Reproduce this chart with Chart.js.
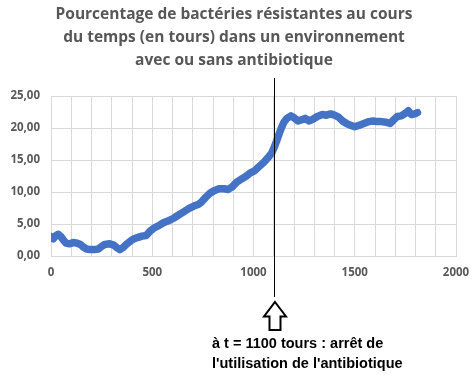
<!DOCTYPE html>
<html>
<head>
<meta charset="utf-8">
<script src="https://cdn.jsdelivr.net/npm/chart.js@4"></script>
<style>
  html, body { margin: 0; padding: 0; background: #ffffff; }
  #wrap { width: 474px; height: 378px; position: relative; }
</style>
</head>
<body>
<div id="wrap"><canvas id="c" width="474" height="378"></canvas></div>
<script>
// ---- Data ----
const titleLines = [
  "Pourcentage de bactéries résistantes au cours",
  "du temps (en tours) dans un environnement",
  "avec ou sans antibiotique"
];
const noteLines = [
  "à t = 1100 tours : arrêt de",
  "l'utilisation de l'antibiotique"
];
const stopTime = 1100;

const tours = [
  0, 12, 25, 36, 50, 61, 75, 90, 110, 130, 145, 160, 175, 195, 215, 235, 250, 265, 290, 310,
  325, 340, 355, 375, 395, 410, 430, 450, 470, 490, 510, 530, 555, 580, 605, 630, 655, 680, 705, 730,
  745, 765, 785, 805, 830, 855, 875, 895, 915, 940, 965, 985, 1005, 1025, 1050, 1070, 1090, 1105, 1120, 1135,
  1150, 1165, 1185, 1200, 1220, 1240, 1255, 1275, 1295, 1315, 1340, 1360, 1380, 1400, 1420, 1440, 1460, 1480, 1500, 1520,
  1545, 1570, 1590, 1610, 1630, 1655, 1675, 1690, 1710, 1730, 1750, 1765, 1780, 1795, 1810
];
const pourcentage = [
  3.0, 2.7, 3.2, 3.4, 3.0, 2.5, 2.0, 1.9, 2.1, 2.0, 1.8, 1.4, 1.1, 1.0, 1.0, 1.1, 1.5, 1.8, 1.9, 1.7,
  1.3, 1.0, 1.3, 1.9, 2.4, 2.7, 2.9, 3.1, 3.2, 3.9, 4.4, 4.7, 5.2, 5.5, 5.9, 6.4, 6.9, 7.4, 7.8, 8.1,
  8.5, 9.2, 9.8, 10.2, 10.5, 10.5, 10.4, 10.8, 11.5, 12.0, 12.5, 13.0, 13.3, 13.9, 14.6, 15.3, 16.1, 17.2, 18.5, 19.8,
  20.9, 21.5, 21.9, 21.6, 21.1, 21.3, 21.5, 21.1, 21.4, 21.8, 22.1, 22.0, 22.2, 22.0, 21.7, 21.1, 20.7, 20.4, 20.2, 20.4,
  20.7, 21.0, 21.1, 21.0, 21.0, 20.9, 20.7, 21.2, 21.8, 21.9, 22.3, 22.7, 22.1, 22.2, 22.4
];
const xTickLabels = [0, 500, 1000, 1500, 2000];
const yTickLabels = ["0,00", "5,00", "10,00", "15,00", "20,00", "25,00"];

// ---- Chart ----
const points = tours.map((t, i) => ({ x: t, y: pourcentage[i] }));

const titlePlugin = {
  id: 'titleAndNote',
  afterDraw(chart) {
    const ctx = chart.ctx;
    ctx.save();
    // title
    ctx.fillStyle = '#575757';
    ctx.font = 'bold 15.5px "Open Sans"';
    ctx.textAlign = 'center';
    ctx.textBaseline = 'middle';
    titleLines.forEach((l, i) => ctx.fillText(l, 234, 15 + i * 23));

    // vertical marker at stopTime
    const x = Math.round(chart.scales.x.getPixelForValue(stopTime)) + 0.5;
    ctx.strokeStyle = '#000000';
    ctx.lineWidth = 1;
    ctx.beginPath();
    ctx.moveTo(x, 78);
    ctx.lineTo(x, 297);
    ctx.stroke();

    // outlined up arrow
    const cx = x - 0.5 + 1;
    ctx.lineWidth = 2;
    ctx.fillStyle = '#ffffff';
    ctx.beginPath();
    ctx.moveTo(cx, 302);
    ctx.lineTo(cx + 11, 316.5);
    ctx.lineTo(cx + 5.5, 316.5);
    ctx.lineTo(cx + 5.5, 330);
    ctx.lineTo(cx - 5.5, 330);
    ctx.lineTo(cx - 5.5, 316.5);
    ctx.lineTo(cx - 11, 316.5);
    ctx.closePath();
    ctx.fill();
    ctx.stroke();

    // note text
    ctx.fillStyle = '#000000';
    ctx.font = 'bold 14.5px "Liberation Sans", Arial, sans-serif';
    ctx.textAlign = 'left';
    ctx.textBaseline = 'alphabetic';
    ctx.fillText(noteLines[0], 212, 348);
    ctx.fillText(noteLines[1], 212, 368);
    ctx.restore();
  }
};

new Chart(document.getElementById('c'), {
  type: 'line',
  data: {
    datasets: [{
      data: points,
      borderColor: '#4472C4',
      backgroundColor: '#4472C4',
      borderWidth: 7.5,
      pointRadius: 0,
      pointHoverRadius: 0,
      tension: 0,
      borderCapStyle: 'round',
      borderJoinStyle: 'round',
      fill: false
    }]
  },
  options: {
    responsive: false,
    animation: false,
    events: [],
    layout: { padding: { top: 96, right: 18, bottom: 102, left: 0 } },
    plugins: { legend: { display: false }, tooltip: { enabled: false }, title: { display: false } },
    scales: {
      x: {
        type: 'linear',
        min: 0, max: 2000,
        afterFit(s) { s.height = 20; s.paddingRight = 0; s.paddingLeft = 0; },
        afterBuildTicks(s) {
          const t = [];
          for (let v = 0; v <= 2000; v += 100) t.push({ value: v });
          s.ticks = t;
        },
        ticks: {
          autoSkip: false,
          maxRotation: 0,
          padding: 10,
          color: '#595959',
          font: { family: 'Open Sans', weight: 'bold', size: 11.5 },
          callback: (v) => xTickLabels.includes(v) ? String(v) : ''
        },
        grid: { color: '#d9d9d9', drawTicks: false, lineWidth: 1 },
        border: { color: '#d9d9d9' }
      },
      y: {
        min: 0, max: 25,
        afterFit(s) { s.width = 51; s.paddingTop = 0; s.paddingBottom = 0; },
        ticks: {
          stepSize: 5,
          padding: 11,
          color: '#595959',
          font: { family: 'Open Sans', weight: 'bold', size: 11.5 },
          callback: (v) => yTickLabels[Math.round(v / 5)]
        },
        grid: { color: '#d9d9d9', drawTicks: false, lineWidth: 1 },
        border: { color: '#d9d9d9' }
      }
    }
  },
  plugins: [titlePlugin]
});
</script>
</body>
</html>
